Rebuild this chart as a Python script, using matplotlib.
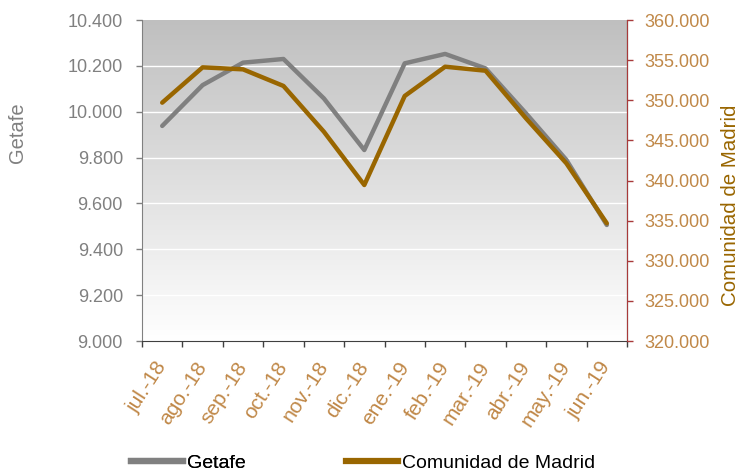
import numpy as np
import matplotlib
matplotlib.use("Agg")
import matplotlib.pyplot as plt
from matplotlib.ticker import FixedLocator, FuncFormatter
from matplotlib.lines import Line2D

plt.rcParams['font.family'] = ['Liberation Sans', 'DejaVu Sans']

months = ["jul.-18", "ago.-18", "sep.-18", "oct.-18", "nov.-18", "dic.-18",
          "ene.-19", "feb.-19", "mar.-19", "abr.-19", "may.-19", "jun.-19"]
getafe = [9938, 10116, 10214, 10230, 10058, 9833, 10211, 10252, 10189, 9993, 9790, 9506]
madrid = [349700, 354100, 353850, 351780, 346080, 339440, 350530, 354180, 353680, 347750, 342140, 334670]
left_ticks = [9000, 9200, 9400, 9600, 9800, 10000, 10200, 10400]
right_ticks = [320000, 325000, 330000, 335000, 340000, 345000, 350000, 355000, 360000]

GRAY = '#808080'
BROWN = '#996600'
TAN = '#c08848'
RED = '#a83a3a'

W, H = 739, 473

def fmt(v, pos):
    return f"{int(v):,}".replace(",", ".")

fig = plt.figure(figsize=(W/100, H/100), dpi=100)
ax = fig.add_axes([142/W, 1 - 341/H, (627-142)/W, (341-20)/H])
ax2 = ax.twinx()

x = np.arange(len(months))
ax.set_xlim(-0.5, len(months) - 0.5)
ax.set_ylim(9000, 10400)
ax2.set_ylim(320000, 360000)

# gradient background (top gray -> bottom white)
grad = np.linspace(0, 1, 256).reshape(-1, 1)
top = np.array([0.749, 0.749, 0.749])
bot = np.array([1.0, 1.0, 1.0])
img = top + (bot - top) * grad[..., None]
ax.imshow(img, extent=[0, 1, 0, 1], origin='upper', transform=ax.transAxes,
          aspect='auto', zorder=0)

for t in left_ticks[1:-1]:
    ax.axhline(t, color='white', lw=1, zorder=1)

ax.plot(x, getafe, color=GRAY, lw=3.2, zorder=3, solid_capstyle='round')
ax2.plot(x, madrid, color=BROWN, lw=3.2, zorder=3, solid_capstyle='round')

FS = 13
ax.set_yticks(left_ticks)
ax.yaxis.set_major_formatter(FuncFormatter(fmt))
ax.tick_params(axis='y', colors=GRAY, labelsize=FS, length=4.3, width=1, direction='out', pad=9.4)

ax2.set_yticks(right_ticks)
ax2.yaxis.set_major_formatter(FuncFormatter(fmt))
ax2.tick_params(axis='y', colors=RED, labelcolor=TAN, labelsize=FS, length=4.3, width=1, direction='out', pad=8)

ax.set_xticks(x)
ax.set_xticklabels(months, rotation=57, ha='right', va='center', rotation_mode='anchor',
                   color=TAN, fontsize=15)
ax.tick_params(axis='x', which='major', length=0, pad=16)
ax.xaxis.set_minor_locator(FixedLocator(np.arange(-0.5, len(months), 1.0)))
ax.tick_params(axis='x', which='minor', length=4.3, width=1, color='#404040', direction='out')

for a in (ax, ax2):
    a.spines['top'].set_visible(False)
ax.spines['left'].set_color(GRAY)
ax.spines['bottom'].set_color('#404040')
ax2.spines['right'].set_color(RED)
ax2.spines['left'].set_visible(False)
ax2.spines['bottom'].set_visible(False)

fig.text(17/W, 1 - 133/H, "Getafe", color=GRAY, fontsize=14.5, rotation=90,
         ha='center', va='center')
fig.text(731/W, 1 - 205/H, "Comunidad de Madrid", color=BROWN, fontsize=14.8, rotation=90,
         ha='center', va='center')

leg1 = fig.legend([Line2D([], [], color=GRAY, lw=4.5)], ["Getafe"], loc='center left',
                  bbox_to_anchor=(131/W, 1 - 463/H), frameon=False, fontsize=14,
                  handlelength=2.68, handletextpad=0.2, borderaxespad=0, borderpad=0)
leg2 = fig.legend([Line2D([], [], color=BROWN, lw=4.5)], ["Comunidad de Madrid"], loc='center left',
                  bbox_to_anchor=(346/W, 1 - 463/H), frameon=False, fontsize=14,
                  handlelength=2.68, handletextpad=0.2, borderaxespad=0, borderpad=0)
fig.add_artist(leg1)

fig.savefig("out.png", dpi=100)
